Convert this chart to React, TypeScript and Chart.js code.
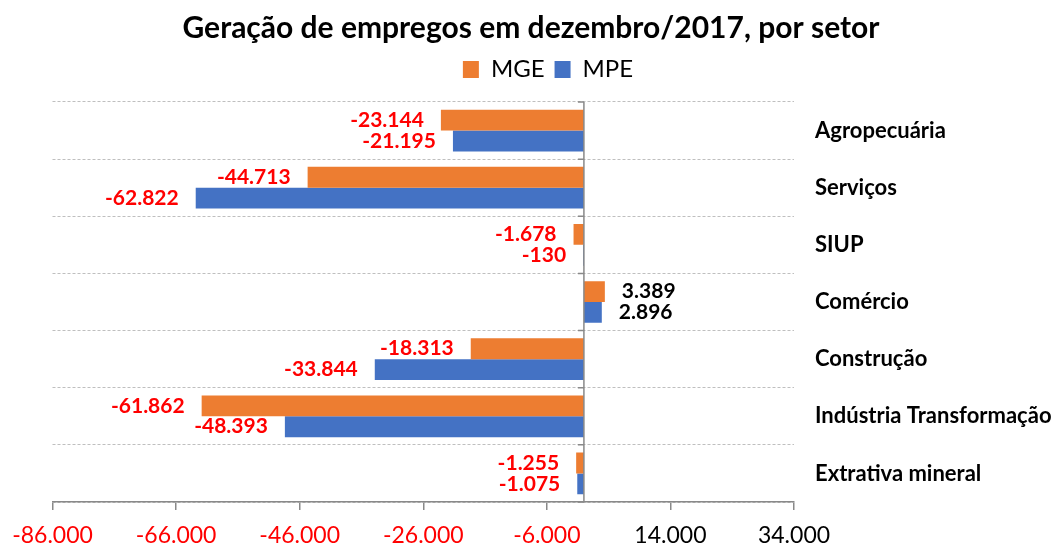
import React, { useEffect, useRef } from 'react';
import { Chart, registerables } from 'chart.js';

Chart.register(...registerables);

const titleText = 'Geração de empregos em dezembro/2017, por setor';
const categories = [
  'Agropecuária',
  'Serviços',
  'SIUP',
  'Comércio',
  'Construção',
  'Indústria Transformação',
  'Extrativa mineral',
];
const seriesNames = ['MGE', 'MPE'];
const mgeValues = [-23144, -44713, -1678, 3389, -18313, -61862, -1255];
const mpeValues = [-21195, -62822, -130, 2896, -33844, -48393, -1075];
const xMin = -86000;
const xMax = 34000;
const xStep = 20000;

const FONT = 'Lato';
const ORANGE = '#ED7D31';
const BLUE = '#4472C4';
const AXIS = '#898989';
const NEG = '#FF0000';

function fmt(n: number): string {
  const s = Math.abs(Math.round(n))
    .toString()
    .replace(/\B(?=(\d{3})+(?!\d))/g, '.');
  return (n < 0 ? '-' : '') + s;
}

const zeroLinePlugin = {
  id: 'zeroLine',
  afterDatasetsDraw(chart: any) {
    const { ctx, chartArea, scales } = chart;
    const x0 = scales.x.getPixelForValue(0);
    ctx.save();
    ctx.strokeStyle = AXIS;
    ctx.lineWidth = 1.5;
    ctx.beginPath();
    ctx.moveTo(x0, chartArea.top);
    ctx.lineTo(x0, chartArea.bottom);
    for (let i = 0; i <= categories.length; i++) {
      const yy = scales.y.getPixelForValue(i - 0.5);
      ctx.moveTo(x0 - 6, yy);
      ctx.lineTo(x0, yy);
    }
    ctx.stroke();
    ctx.restore();
  },
};

const valueLabelPlugin = {
  id: 'valueLabels',
  afterDatasetsDraw(chart: any) {
    const { ctx } = chart;
    ctx.save();
    ctx.font = `bold 21px ${FONT}`;
    ctx.textBaseline = 'middle';
    chart.data.datasets.forEach((ds: any, di: number) => {
      const meta = chart.getDatasetMeta(di);
      meta.data.forEach((bar: any, i: number) => {
        const v = ds.data[i] as number;
        const { x, y } = bar.getProps(['x', 'y'], true);
        if (v < 0) {
          ctx.fillStyle = NEG;
          ctx.textAlign = 'right';
          ctx.fillText(fmt(v), x - 17, y);
        } else {
          ctx.fillStyle = '#000000';
          ctx.textAlign = 'left';
          ctx.fillText(fmt(v), x + 17, y);
        }
      });
    });
    ctx.restore();
  },
};

const legendShiftPlugin = {
  id: 'legendShift',
  afterLayout(chart: any) {
    const lg = chart.legend;
    if (lg) {
      lg.left += 17;
      lg.right += 17;
    }
  },
};

export default function App() {
  const ref = useRef<HTMLCanvasElement | null>(null);

  useEffect(() => {
    if (!ref.current) return;
    const chart = new Chart(ref.current, {
      type: 'bar',
      data: {
        labels: categories,
        datasets: [
          {
            label: seriesNames[0],
            data: mgeValues,
            backgroundColor: ORANGE,
            borderWidth: 0,
            categoryPercentage: 0.73,
            barPercentage: 1,
          },
          {
            label: seriesNames[1],
            data: mpeValues,
            backgroundColor: BLUE,
            borderWidth: 0,
            categoryPercentage: 0.73,
            barPercentage: 1,
          },
        ],
      },
      options: {
        indexAxis: 'y',
        responsive: false,
        animation: false,
        layout: { padding: 0 },
        scales: {
          x: {
            type: 'linear',
            min: xMin,
            max: xMax,
            ticks: {
              stepSize: xStep,
              autoSkip: false,
              maxRotation: 0,
              padding: 12,
              font: { family: FONT, size: 23 },
              color: (c: any) => (c.tick && c.tick.value < 0 ? NEG : '#000000'),
              callback: (v: any) => fmt(Number(v)),
            },
            grid: {
              drawOnChartArea: false,
              drawTicks: true,
              tickLength: 8,
              color: AXIS,
              lineWidth: 1.5,
            },
            border: { display: true, color: AXIS, width: 1.5 },
            afterFit: (scale: any) => {
              scale.height = 45;
              scale.paddingLeft = 52.5;
            },
          },
          y: {
            type: 'category',
            position: 'right',
            ticks: {
              autoSkip: false,
              padding: 21,
              color: '#000000',
              font: { family: FONT, size: 22, weight: 'bold' },
            },
            grid: {
              color: '#BFBFBF',
              lineWidth: 1,
              drawTicks: false,
              offset: true,
            },
            border: { display: false, dash: [3, 2] },
            afterFit: (scale: any) => {
              scale.width = 268;
            },
          },
        },
        plugins: {
          title: {
            display: true,
            text: titleText,
            color: '#000000',
            font: { family: FONT, size: 30, weight: 'bold' },
            padding: { top: 10, bottom: 1.5 },
          },
          subtitle: {
            display: true,
            text: '',
            position: 'top',
            weight: 500,
            font: { size: 1, lineHeight: 1 },
            padding: { top: 9.5, bottom: 0 },
          },
          legend: {
            display: true,
            position: 'top',
            labels: {
              color: '#000000',
              font: { family: FONT, size: 24 },
              boxWidth: 16,
              boxHeight: 17,
              padding: 10,
            },
          },
          tooltip: { enabled: false },
        },
      } as any,
      plugins: [zeroLinePlugin, valueLabelPlugin, legendShiftPlugin],
    });
    return () => chart.destroy();
  }, []);

  return (
    <div style={{ position: 'fixed', left: 0, top: 0, width: 1062, height: 547, background: '#ffffff' }}>
      <canvas ref={ref} width={1062} height={547} style={{ display: 'block' }} />
    </div>
  );
}
